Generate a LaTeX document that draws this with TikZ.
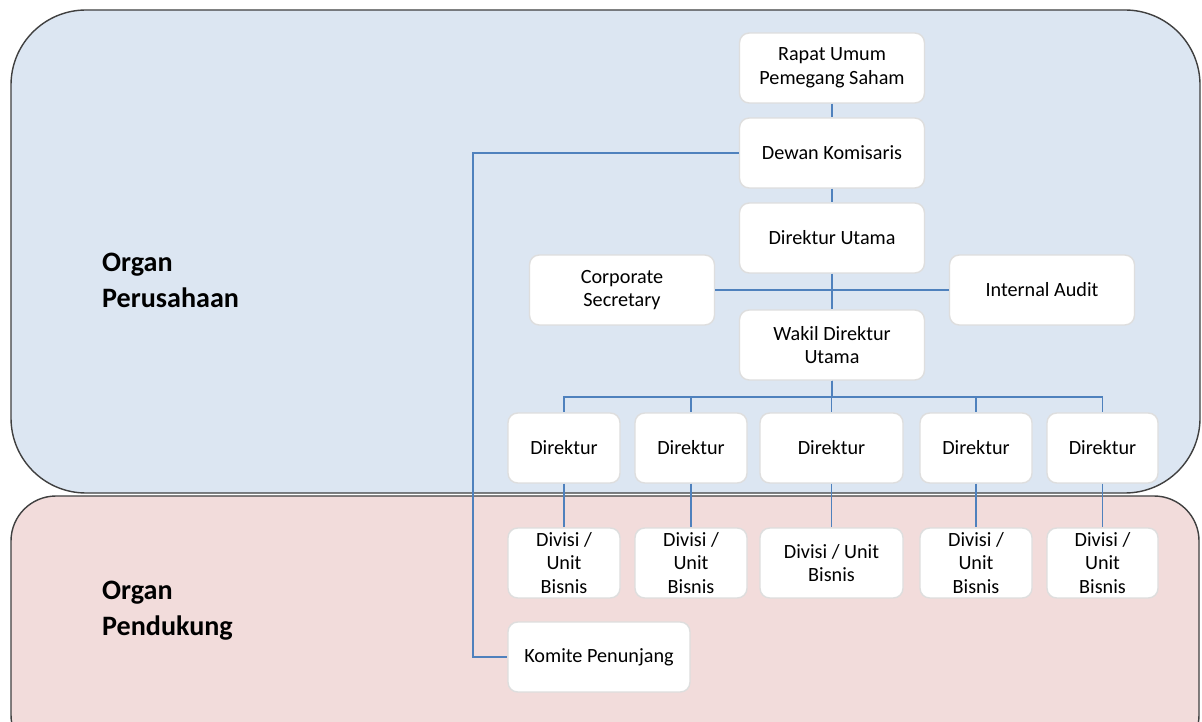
\documentclass[tikz,border=0pt]{standalone}
\usepackage{fontspec}
\setmainfont{Carlito}
\usepackage{xcolor}
\definecolor{perusahaan}{HTML}{DCE6F2}
\definecolor{pendukung}{HTML}{F2DCDB}
\definecolor{garis}{HTML}{4F81BD}
\definecolor{tepi}{HTML}{404040}

\begin{document}
\begin{tikzpicture}[x=0.02cm, y=-0.02cm,
    box/.style={draw=black!13, line width=0.8pt, fill=white, rounded corners=5.5pt,
        minimum height=1.4cm, inner sep=1pt, align=center,
        font=\fontsize{11.5}{13.4}\selectfont},
    link/.style={garis, line width=0.8pt},
    region/.style={draw=tepi, line width=0.8pt},
    orglabel/.style={anchor=west, align=left, font=\fontsize{16}{20.4}\selectfont\bfseries}]
        \clip (0,0) rectangle (1202,722);
        \fill [white] (0,0) rectangle (1202,722);

        \draw [region, fill=perusahaan, rounded corners=1.5cm] (11,10) rectangle (1200,493);
        \draw [region, fill=pendukung, rounded corners=0.9cm] (11,496) rectangle (1199,760);

        \node [orglabel] (perusahaanlbl) at (96, 280) {Organ\\Perusahaan};
        \node [orglabel] (pendukunglbl) at (96, 611) {Organ\\Pendukung};

        \node [box, minimum width=3.7cm] (rups) at (832, 68) {Rapat Umum\\Pemegang Saham};
        \node [box, minimum width=3.7cm] (dewan) at (832, 153) {Dewan Komisaris};
        \node [box, minimum width=3.7cm] (dirut) at (832, 238) {Direktur Utama};
        \node [box, minimum width=3.7cm] (corsec) at (622, 290) {Corporate\\Secretary};
        \node [box, minimum width=3.7cm] (audit) at (1042, 290) {Internal Audit};
        \node [box, minimum width=3.7cm] (wakil) at (832, 345) {Wakil Direktur\\Utama};
        \node [box, minimum width=3.64cm] (komite) at (599, 657) {Komite Penunjang};

        \coordinate (bus) at (0, 397);
        \coordinate (tekuk) at (473, 0);

        \draw [link] (rups) -- (dewan);
        \draw [link] (dewan) -- (dirut);
        \draw [link] (dirut) -- (wakil);
        \draw [link] (corsec) -- (audit);
        \draw [link] (dewan.west) -- (dewan.west -| tekuk) |- (komite.west);

        \foreach \n/\x/\w/\teks in {1/564/2.24/{Divisi /\\Unit\\Bisnis},
                                    2/691/2.24/{Divisi /\\Unit\\Bisnis},
                                    3/831.5/2.86/{Divisi / Unit\\Bisnis},
                                    4/976/2.24/{Divisi /\\Unit\\Bisnis},
                                    5/1102.5/2.22/{Divisi /\\Unit\\Bisnis}}
        {
            \node [box, minimum width=\w cm] (dir\n) at (\x, 448) {Direktur};
            \node [box, minimum width=\w cm] (div\n) at (\x, 563) {\teks};
            \draw [link] (wakil.south) -- (wakil.south |- bus) -| (dir\n.north);
            \draw [link] (dir\n) -- (div\n);
        }
    \end{tikzpicture}
\end{document}
